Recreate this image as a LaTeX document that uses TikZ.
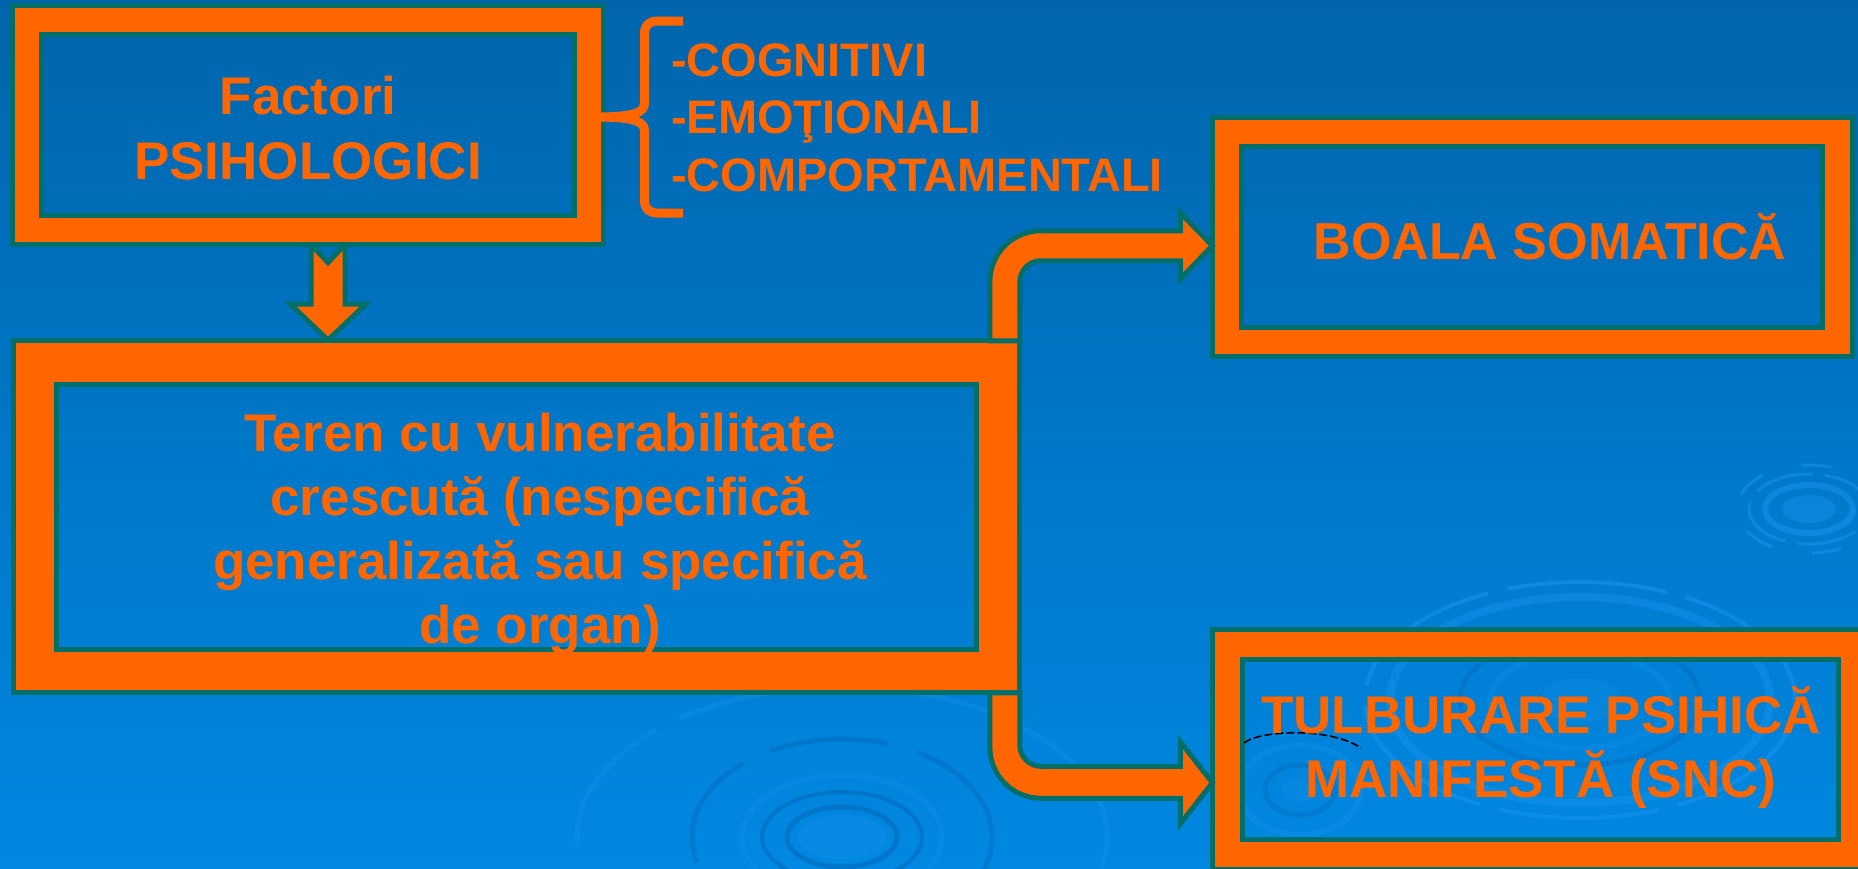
\documentclass[tikz,border=0pt]{standalone}
\usepackage{fontspec}
\setmainfont{Liberation Sans}
\usetikzlibrary{calc}
\definecolor{bgtop}{RGB}{0,101,172}
\definecolor{bgmid}{RGB}{0,114,198}
\definecolor{bgbot}{RGB}{0,136,226}
\definecolor{orng}{RGB}{255,102,0}
\definecolor{tealc}{RGB}{0,110,105}
\definecolor{ripLc}{RGB}{25,150,240}
\definecolor{ripDc}{RGB}{0,92,170}
\newcommand\fbig{\fontsize{53}{64}\selectfont\bfseries}
\newcommand\flist{\fontsize{47}{57.5}\selectfont\bfseries}
\tikzset{
  framebox/.style={draw=tealc, line width=5pt, double=orng, inner sep=0pt, outer sep=0pt},
  arrowbody/.style={fill=orng, draw=tealc, line width=5pt, line join=miter},
  bracestroke/.style={draw=orng, line width=9pt, line cap=butt, line join=round},
  bigtext/.style={text=orng, font=\fbig, inner sep=0pt, align=center},
  listtext/.style={text=orng, font=\flist, inner sep=0pt, align=left},
  rippleL/.style={draw=ripLc, opacity=0.5},
  rippleD/.style={draw=ripDc, opacity=0.4},
  ripfill/.style={fill=ripLc, opacity=0.4},
  glitch/.style={draw=black, line width=1.6pt, dash pattern=on 8pt off 3pt}
}
\begin{document}
\begin{tikzpicture}[x=1pt,y=-1pt]
\useasboundingbox (0,0) rectangle (1858,868);
\clip (0,0) rectangle (1858,868);
\shade[top color=bgtop, middle color=bgmid, bottom color=bgbot] (0,0) rectangle (1858,868);

% background ripples
\fill[ripfill] (1809,509) ellipse [x radius=27pt, y radius=14pt];
\draw[rippleL, line width=6pt] (1809,509) ellipse [x radius=44pt, y radius=24pt];
\draw[rippleL, line width=3pt, dash pattern=on 60pt off 12pt] (1809,509) ellipse [x radius=60pt, y radius=35pt];
\draw[rippleL, line width=3pt, dash pattern=on 30pt off 40pt] (1809,509) ellipse [x radius=72pt, y radius=44pt];

\fill[ripfill, opacity=0.25] (842,837) ellipse [x radius=45pt, y radius=22pt];
\draw[rippleD, line width=5pt] (842,837) ellipse [x radius=55pt, y radius=30pt];
\draw[rippleD, line width=4pt] (842,837) ellipse [x radius=80pt, y radius=45pt];
\draw[rippleL, opacity=0.25, line width=5pt] (842,837) ellipse [x radius=100pt, y radius=62pt];
\draw[rippleD, opacity=0.3, line width=5pt, dash pattern=on 120pt off 30pt] (842,837) ellipse [x radius=150pt, y radius=98pt];
\draw[rippleL, opacity=0.3, line width=5pt, dash pattern=on 150pt off 25pt] (842,837) ellipse [x radius=265pt, y radius=150pt];

\draw[rippleL, line width=4pt, dash pattern=on 160pt off 20pt] (1580,700) ellipse [x radius=215pt, y radius=118pt];
\draw[rippleL, opacity=0.4, line width=8pt] (1580,700) ellipse [x radius=190pt, y radius=103pt];
\draw[rippleD, opacity=0.25, line width=5pt] (1580,700) ellipse [x radius=120pt, y radius=65pt];
\draw[rippleL, opacity=0.25, line width=6pt] (1580,700) ellipse [x radius=90pt, y radius=48pt];
\fill[ripfill, opacity=0.2] (1580,700) ellipse [x radius=40pt, y radius=22pt];

\draw[rippleL, opacity=0.3, line width=6pt] (1300,790) ellipse [x radius=60pt, y radius=45pt];
\draw[rippleD, opacity=0.25, line width=5pt] (1300,790) ellipse [x radius=35pt, y radius=25pt];
\fill[ripfill, opacity=0.2] (1300,790) ellipse [x radius=18pt, y radius=12pt];

% boxes (frames)
\node[framebox, double distance=38.5pt, minimum width=963pt, minimum height=308.5pt] (b2) at (516.6,516.75) {};
\node[framebox, double distance=24.5pt, minimum width=610.5pt, minimum height=210pt] (b3) at (1532.25,237) {};
\node[framebox, double distance=25pt, minimum width=626pt, minimum height=210.5pt] (b4) at (1540,749.25) {};

\coordinate (b1s) at (328,244.5);
\coordinate (b2ne) at ($(b2.north east)+(21.75,-21.75)$);
\coordinate (b2se) at ($(b2.south east)+(21.75,21.75)$);

% down arrow b1 -> b2 (drawn beneath frame b1)
\begin{scope}[shift={(b1s)}]
\draw[arrowbody] (-17,0) -- (0,18) -- (17,0) -- (17,59.5) -- (38,59.5) -- (0,95.5) -- (-38,59.5) -- (-17,59.5) -- cycle;
\end{scope}

\node[framebox, double distance=24pt, minimum width=562pt, minimum height=210pt] (b1) at (308,125) {};

% bent arrow b2 -> b3
\begin{scope}[shift={(b2ne)}]
\draw[arrowbody] (-30,0) -- (-30,-59) .. controls (-30,-87.2) and (-7.2,-110) .. (21,-110) -- (160.5,-110) -- (160.5,-128) -- (192.5,-95) -- (160.5,-62) -- (160.5,-80) -- (21,-80) .. controls (9.4,-80) and (0,-70.6) .. (0,-59) -- (0,0) -- cycle;
\end{scope}

% bent arrow b2 -> b4
\begin{scope}[shift={(b2se)}]
\draw[arrowbody] (-30,0) -- (-30,54.5) .. controls (-30,82.7) and (-7.2,105.5) .. (21,105.5) -- (160.5,105.5) -- (160.5,131) -- (192.5,90) -- (160.5,49) -- (160.5,73.5) -- (21,73.5) .. controls (9.4,73.5) and (0,64.1) .. (0,52.5) -- (0,0) -- cycle;
\end{scope}

% brace
\draw[bracestroke] (683,21) -- (658,21) .. controls (649,21) and (644.5,25) .. (644.5,34) -- (644.5,103) .. controls (644.5,112) and (636,116.5) .. (601,117) .. controls (636,117.5) and (644.5,122) .. (644.5,131) -- (644.5,200) .. controls (644.5,209) and (649,213) .. (658,213) -- (683,213);

% small dashed arc
\draw[glitch] (1244,743) .. controls (1260,730) and (1330,727) .. (1361,748);

% texts
\node[bigtext, anchor=north, font=\fontsize{53}{65}\selectfont\bfseries] (t1) at (308,58) {\rule{0pt}{56pt}Factori\\PSIHOLOGICI};
\node[bigtext, anchor=north] (t2) at (540,395) {\rule{0pt}{56pt}Teren cu vulnerabilitate\\crescută (nespecifică\\generalizată sau specifică\\de organ)};
\node[bigtext, anchor=base, font=\fontsize{52}{64}\selectfont\bfseries] (t3) at (1550,259) {BOALA SOMATICĂ};
\node[bigtext, anchor=north] (t4) at (1541,677) {\rule{0pt}{56pt}TULBURARE PSIHICĂ\\MANIFESTĂ (SNC)};
\node[listtext, anchor=north west] (t5) at (671,26) {\rule{0pt}{50pt}-COGNITIVI\\-EMOŢIONALI\\-COMPORTAMENTALI};
\end{tikzpicture}
\end{document}
